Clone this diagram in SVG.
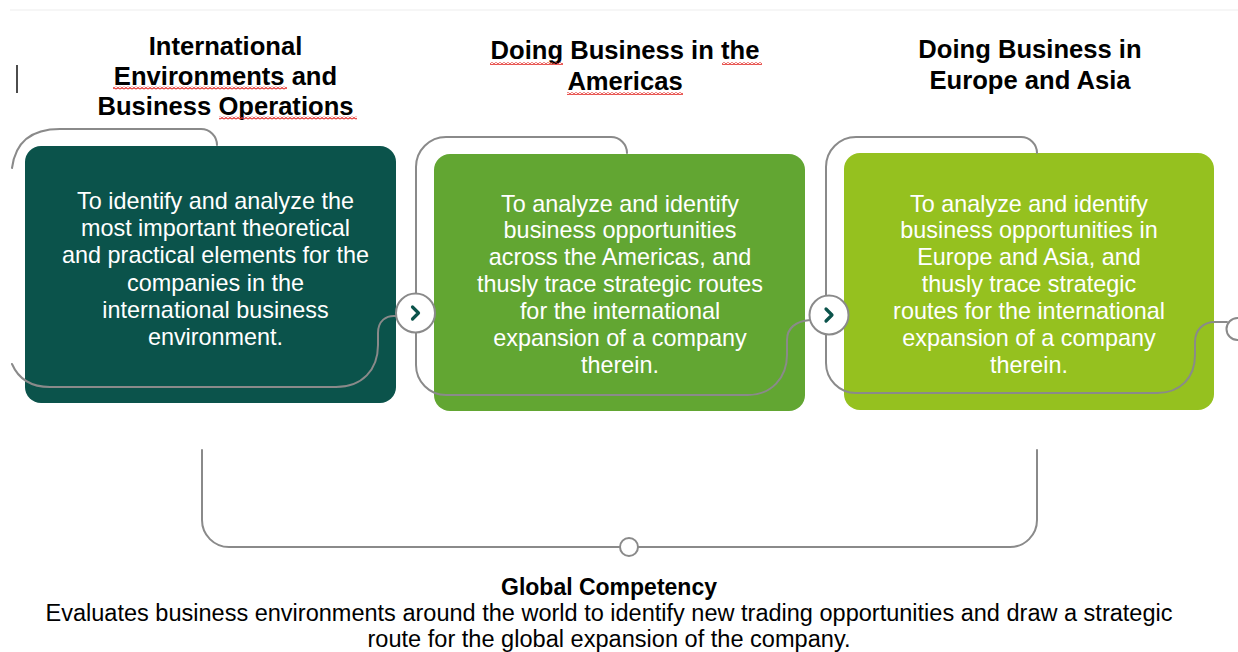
<svg xmlns="http://www.w3.org/2000/svg" width="1238" height="652" viewBox="0 0 1238 652">
  <defs>
    <style>
      .title { font-family: "Liberation Sans", Arial, sans-serif; font-weight: bold; font-size: 25.6px; fill: #000; text-anchor: middle; }
      .body { font-family: "Liberation Sans", Arial, sans-serif; font-size: 23.4px; fill: #ffffff; text-anchor: middle; }
      .foot { font-family: "Liberation Sans", Arial, sans-serif; font-size: 23px; fill: #000; text-anchor: middle; }
      .foot-b { font-weight: bold; }
      .wire { fill: none; stroke: #8a8a8a; stroke-width: 2; stroke-linecap: round; stroke-linejoin: round; }
      .hub { fill: #ffffff; stroke: #8a8a8a; stroke-width: 2; }
      .chev { fill: none; stroke: #0b534b; stroke-width: 3.2; stroke-linecap: round; stroke-linejoin: round; }
      .squig { fill: url(#wavy); }
    </style>
    <pattern id="wavy" width="4" height="3" patternUnits="userSpaceOnUse">
      <path d="M0,2.4 L2,0.6 L4,2.4" fill="none" stroke="#e3312c" stroke-width="1.2"/>
    </pattern>
  </defs>

  <rect width="1238" height="652" fill="#ffffff"/>
  <!-- faint page rule -->
  <line x1="10" y1="10" x2="1238" y2="10" stroke="#f3f3f3" stroke-width="1.5"/>
  <!-- text caret -->
  <line x1="17" y1="65" x2="17" y2="93" stroke="#000" stroke-width="1.4"/>

  <!-- Titles -->
  <g id="title-1">
    <text class="title" x="225.5" y="55">International</text>
    <text class="title" x="225.5" y="85">Environments and</text>
    <text class="title" x="225.5" y="115">Business Operations</text>
    <rect class="squig" x="113" y="86.5" width="174" height="3"/>
    <rect class="squig" x="219" y="116.5" width="138" height="3"/>
  </g>
  <g id="title-2">
    <text class="title" x="625" y="58.5">Doing Business in the</text>
    <text class="title" x="625" y="89.5">Americas</text>
    <rect class="squig" x="490" y="62" width="73" height="3"/>
    <rect class="squig" x="722" y="62" width="40" height="3"/>
    <rect class="squig" x="567" y="92" width="116" height="3"/>
  </g>
  <g id="title-3">
    <text class="title" x="1030" y="58">Doing Business in</text>
    <text class="title" x="1030" y="88.5">Europe and Asia</text>
  </g>

  <!-- Step boxes -->
  <g id="step-1">
    <rect x="25" y="146" width="371" height="257" rx="16" fill="#0b534b"/>
    <text class="body" x="215.5" y="209">To identify and analyze the</text>
    <text class="body" x="215.5" y="236.2">most important theoretical</text>
    <text class="body" x="215.5" y="263.4">and practical elements for the</text>
    <text class="body" x="215.5" y="290.6">companies in the</text>
    <text class="body" x="215.5" y="317.8">international business</text>
    <text class="body" x="215.5" y="345">environment.</text>
  </g>
  <g id="step-2">
    <rect x="434" y="154" width="371" height="257" rx="16" fill="#62a632"/>
    <text class="body" x="620" y="211.5">To analyze and identify</text>
    <text class="body" x="620" y="238.4">business opportunities</text>
    <text class="body" x="620" y="265.3">across the Americas, and</text>
    <text class="body" x="620" y="292.2">thusly trace strategic routes</text>
    <text class="body" x="620" y="319.1">for the international</text>
    <text class="body" x="620" y="346">expansion of a company</text>
    <text class="body" x="620" y="372.9">therein.</text>
  </g>
  <g id="step-3">
    <rect x="844" y="153" width="370" height="257" rx="16" fill="#95c11f"/>
    <text class="body" x="1029" y="211.5">To analyze and identify</text>
    <text class="body" x="1029" y="238.4">business opportunities in</text>
    <text class="body" x="1029" y="265.3">Europe and Asia, and</text>
    <text class="body" x="1029" y="292.2">thusly trace strategic</text>
    <text class="body" x="1029" y="319.1">routes for the international</text>
    <text class="body" x="1029" y="346">expansion of a company</text>
    <text class="body" x="1029" y="372.9">therein.</text>
  </g>

  <!-- Connectors -->
  <g id="connectors">
    <!-- loop around step 1 -->
    <path class="wire" d="M12,168 Q17,129 60,129 H201 A16,16 0 0 1 217,145"/>
    <path class="wire" d="M12,364 Q22,387 50,387 H336 C362,387 378,370 378,345 V333 C378,321 386,315 396,316"/>
    <!-- loop around step 2 -->
    <path class="wire" d="M627,153 A16,16 0 0 0 611,137 H446 A30,30 0 0 0 416,167 V294"/>
    <path class="wire" d="M416,332 V365 A30,30 0 0 0 446,395 H748 C771,395 787,378 787,355 V340 C787,328 796,321 810,320"/>
    <!-- loop around step 3 -->
    <path class="wire" d="M1037,153 A16,16 0 0 0 1021,137 H856 A30,30 0 0 0 826,167 V295"/>
    <path class="wire" d="M826,334 V363 A30,30 0 0 0 856,393 H1157 C1180,393 1195,378 1195,355 V342 C1195,330 1203,322 1215,322 H1227"/>
    <!-- competency bracket -->
    <path class="wire" d="M202,450 V520 A27,27 0 0 0 229,547 H620"/>
    <path class="wire" d="M638,547 H1010 A27,27 0 0 0 1037,520 V450"/>

    <!-- hubs -->
    <circle class="hub" cx="415.5" cy="313" r="19.5"/>
    <path class="chev" d="M412.5,307 L418.5,313 L412.5,319"/>
    <circle class="hub" cx="829" cy="315" r="19.5"/>
    <path class="chev" d="M826,309 L832,315 L826,321"/>
    <circle class="hub" cx="1237.5" cy="329" r="11"/>
    <circle class="hub" cx="629" cy="547" r="9"/>
  </g>

  <!-- Competency summary -->
  <g id="summary">
    <text class="foot foot-b" x="609" y="595">Global Competency</text>
    <text class="foot" x="609" y="621" textLength="1127" lengthAdjust="spacingAndGlyphs">Evaluates business environments around the world to identify new trading opportunities and draw a strategic</text>
    <text class="foot" x="609" y="647" textLength="483" lengthAdjust="spacingAndGlyphs">route for the global expansion of the company.</text>
  </g>
</svg>
